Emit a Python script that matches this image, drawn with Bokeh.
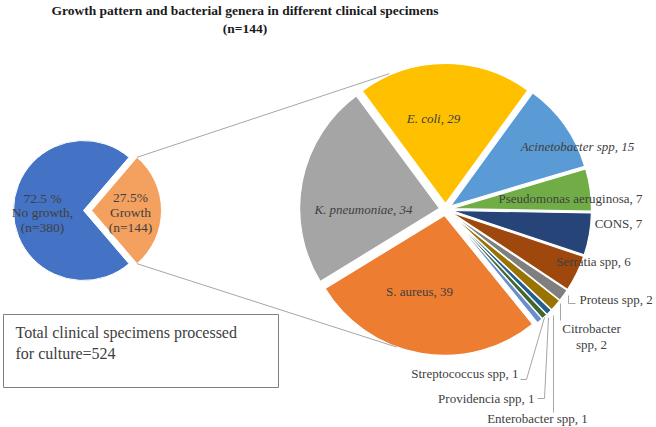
import math
import numpy as np
from bokeh.plotting import figure
from bokeh.models import Range1d, ColumnDataSource
from bokeh.embed import file_html
from bokeh.resources import INLINE
from bokeh.core.properties import value

# ---------------- data ----------------
growth_labels = ["No growth", "Growth"]
growth_counts = [380, 144]

genera = ["S. aureus", "K. pneumoniae", "E. coli", "Acinetobacter spp",
          "Pseudomonas aeruginosa", "CONS", "Serratia spp", "Proteus spp",
          "Citrobacter spp", "Enterobacter spp", "Providencia spp",
          "Streptococcus spp"]
genera_counts = [39, 34, 29, 15, 7, 7, 6, 2, 2, 1, 1, 1]

title_lines = ["Growth pattern and bacterial genera in different clinical specimens",
               "(n=144)"]
box_lines = ["Total clinical specimens processed", "for culture=524"]

# ---------------- styles ----------------
growth_colors = ["#4472C4", "#F4A05E"]
genera_colors = ["#ED7D31", "#A5A5A5", "#FFC000", "#5B9BD5", "#70AD47", "#264478",
                 "#9E480E", "#7F7F7F", "#997300", "#255E91", "#43682B", "#698ED0"]
genera_italic = [False, True, True, True, False, False, False, False, False,
                 False, False, False]
FONT = value("Liberation Serif")
TXT = "#404040"
H = 427

W_, H_ = 656, 427
p = figure(width=W_, height=H_, x_range=Range1d(0, W_), y_range=Range1d(0, H_),
           output_backend="svg", toolbar_location=None, min_border=0,
           x_axis_location=None, y_axis_location=None)
p.grid.visible = False
p.outline_line_color = None
p.background_fill_color = "white"
p.border_fill_color = "white"

# ---------------- left pie ----------------
lcx, lcy, lr = 83, H - 210, 70
tot = sum(growth_counts)
half = math.pi * growth_counts[1] / tot
p.wedge(x=lcx, y=lcy, radius=lr, start_angle=half, end_angle=2 * math.pi - half,
        fill_color=growth_colors[0], line_color="white", line_width=1)
gx = lcx + 8
p.wedge(x=gx, y=lcy, radius=lr, start_angle=-half, end_angle=half,
        fill_color=growth_colors[1], line_color="white", line_width=1)

pct_no = 100 * growth_counts[0] / tot
pct_g = 100 * growth_counts[1] / tot
left_txt = ["%.1f %%" % pct_no, "No growth,", "(n=%d)" % growth_counts[0]]
right_txt = ["%.1f%%" % pct_g, growth_labels[1], "(n=%d)" % growth_counts[1]]
p.text(x=[42, 42, 42], y=[H - 198, H - 212, H - 227], text=left_txt,
       text_font=FONT, text_font_size="13.5px", text_color=TXT,
       text_align="center", text_baseline="middle")
p.text(x=[130, 130, 130], y=[H - 197, H - 212, H - 227], text=right_txt,
       text_font=FONT, text_font_size="13.5px", text_color=TXT,
       text_align="center", text_baseline="middle")

# ---------------- right pie ----------------
rcx, rcy, rr, d = 445, H - 209, 140, 6
gtot = sum(genera_counts)
theta0 = math.radians(-51)
cum = np.concatenate([[0], np.cumsum(genera_counts)])
ends = theta0 - cum[:-1] / gtot * 2 * math.pi
starts = theta0 - cum[1:] / gtot * 2 * math.pi
bis = (starts + ends) / 2
xs = rcx + d * np.cos(bis)
ys = rcy + d * np.sin(bis)
src = ColumnDataSource(dict(x=xs, y=ys, s=starts, e=ends, c=genera_colors))
p.wedge(x="x", y="y", radius=rr, start_angle="s", end_angle="e",
        fill_color="c", line_color="white", line_width=1.2, source=src)

# connector lines from growth slice to the right pie
a1, a2 = math.radians(112.5), math.radians(-109.5)
p.segment(x0=[gx + lr * math.cos(half), gx + lr * math.cos(-half)],
          y0=[lcy + lr * math.sin(half), lcy + lr * math.sin(-half)],
          x1=[rcx + 147 * math.cos(a1), rcx + 146 * math.cos(a2)],
          y1=[rcy + 147 * math.sin(a1), rcy + 146 * math.sin(a2)],
          line_color="#A6A6A6", line_width=1)

# labels
lab = ["%s, %d" % (g, v) for g, v in zip(genera, genera_counts)]
lab_pos = {
    0: (419, 291, "center"),
    1: (363, 209, "center"),
    2: (433, 118, "center"),
    3: (577, 146, "center"),
    4: (570, 198, "center"),
    5: (618, 223, "center"),
    6: (593, 261, "center"),
    7: (579, 299, "left"),
    9: (537, 418, "center"),
    10: (534, 398, "right"),
    11: (518, 373, "right"),
}
for i, (x, y, al) in lab_pos.items():
    p.text(x=[x], y=[H - y], text=[lab[i]], text_font=FONT, text_font_size="13px",
           text_color=TXT, text_align=al, text_baseline="middle",
           text_font_style="italic" if genera_italic[i] else "normal")
cit_name, cit_rest = genera[8].split(" ", 1)
p.text(x=[591, 591], y=[H - 328, H - 344],
       text=[cit_name, "%s, %d" % (cit_rest, genera_counts[8])],
       text_font=FONT, text_font_size="13px", text_color=TXT,
       text_align="center", text_baseline="middle")

# leader lines
leaders_x = [[568, 568, 575], [560, 560], [520, 526, 544], [537, 544, 548], [553, 553]]
leaders_y = [[295, 303, 303], [303, 320], [379, 379, 317], [398, 398, 317], [412, 315]]
p.multi_line(xs=leaders_x, ys=[[H - v for v in l] for l in leaders_y],
             line_color="#A6A6A6", line_width=1)

# ---------------- text box ----------------
p.quad(left=[3], right=[278], top=[H - 314], bottom=[H - 387],
       fill_color="white", line_color="#7F7F7F", line_width=1)
p.text(x=[15, 15], y=[H - 332, H - 353], text=box_lines, text_font=FONT,
       text_font_size="16px", text_color=TXT, text_align="left",
       text_baseline="middle")

# ---------------- title ----------------
p.text(x=[244.5, 244.5], y=[H - 10, H - 28], text=title_lines, text_font=FONT,
       text_font_size="13.5px", text_font_style="bold", text_color="#1A1A1A",
       text_align="center", text_baseline="middle")

open("out.html", "w").write(file_html(p, INLINE))
